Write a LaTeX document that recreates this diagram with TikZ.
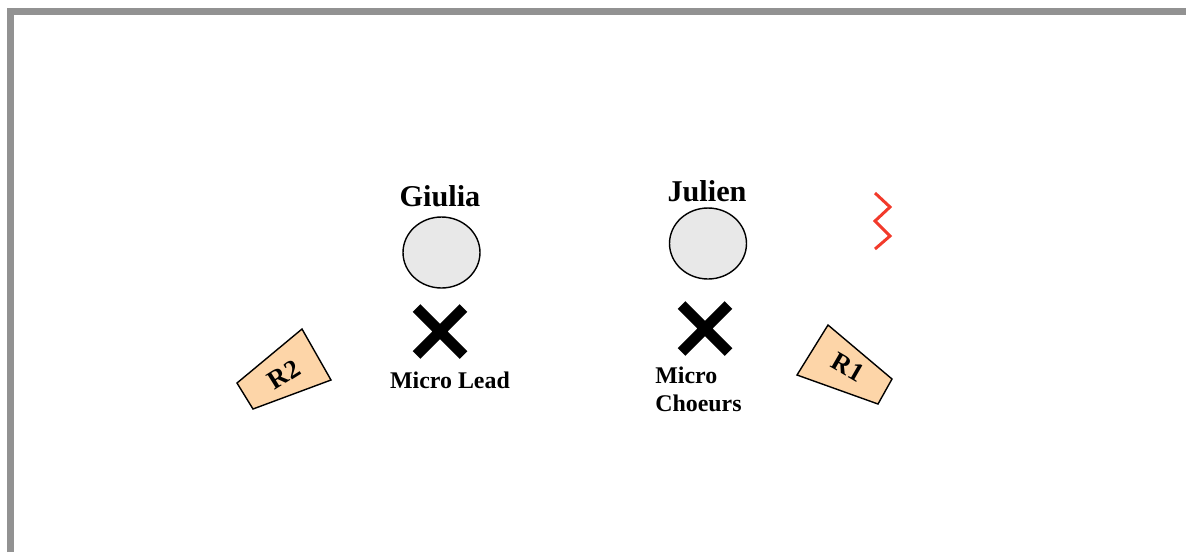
\documentclass[tikz,border=0pt]{standalone}
\usepackage{fontspec}
\setmainfont{Liberation Serif}
\usetikzlibrary{shapes.geometric,shapes.misc}
\definecolor{stagegray}{HTML}{929292}
\definecolor{headfill}{HTML}{E8E8E8}
\definecolor{wedgefill}{HTML}{FDD5A8}
\definecolor{plugred}{HTML}{F23A2B}
\tikzset{
  person/.style={ellipse,draw,fill=headfill,line width=0.8pt,inner sep=0pt,minimum width=1.54cm,minimum height=1.42cm},
  who/.style={font=\fontsize{17.2}{20}\selectfont\bfseries},
  mic/.style={cross out,draw,line width=6.2pt,inner sep=0pt,outer sep=0pt,minimum size=0.94cm},
  miclabel/.style={font=\fontsize{13.6}{16}\selectfont\bfseries,inner sep=0pt},
  wedge/.style={draw,fill=wedgefill,line width=0.8pt,line join=miter},
  wedgelabel/.style={font=\fontsize{15}{16}\selectfont\bfseries,inner sep=0pt}
}

\begin{document}
\begin{tikzpicture}[x=0.02cm,y=-0.02cm]
\useasboundingbox (0,0) rectangle (1186,552);
% stage edge
\draw[stagegray,line width=4pt] (10.5,552) -- (10.5,11.5) -- (1186,11.5);
% singers
\node[person] (giulia) at (441.5,252.5) {};
\node[who] (giulia label) at (440,196) {Giulia};
\node[person] (julien) at (708,243.5) {};
\node[who] (julien label) at (707,191) {Julien};
% microphones
\node[mic] (mic lead) at (440,331.5) {};
\node[miclabel] (mic lead label) at (450,380) {Micro Lead};
\node[mic] (mic choeurs) at (705,328.5) {};
\node[miclabel,align=left,anchor=west] (mic choeurs label) at (655,389) {Micro\\Choeurs};
% wedges
\draw[wedge] (302,329) -- (331,380) -- (253,409) -- (237,383) -- cycle;
\node[wedgelabel,rotate=32] (r2) at (284,375) {R2};
\draw[wedge] (828,325) -- (892,379) -- (878,404) -- (797,375) -- cycle;
\node[wedgelabel,rotate=-30] (r1) at (848,367) {R1};
% power
\draw[plugred,line width=1.7pt] (875,193) -- (890,207) -- (875,221) -- (890,236) -- (875,249);
\end{tikzpicture}
\end{document}
